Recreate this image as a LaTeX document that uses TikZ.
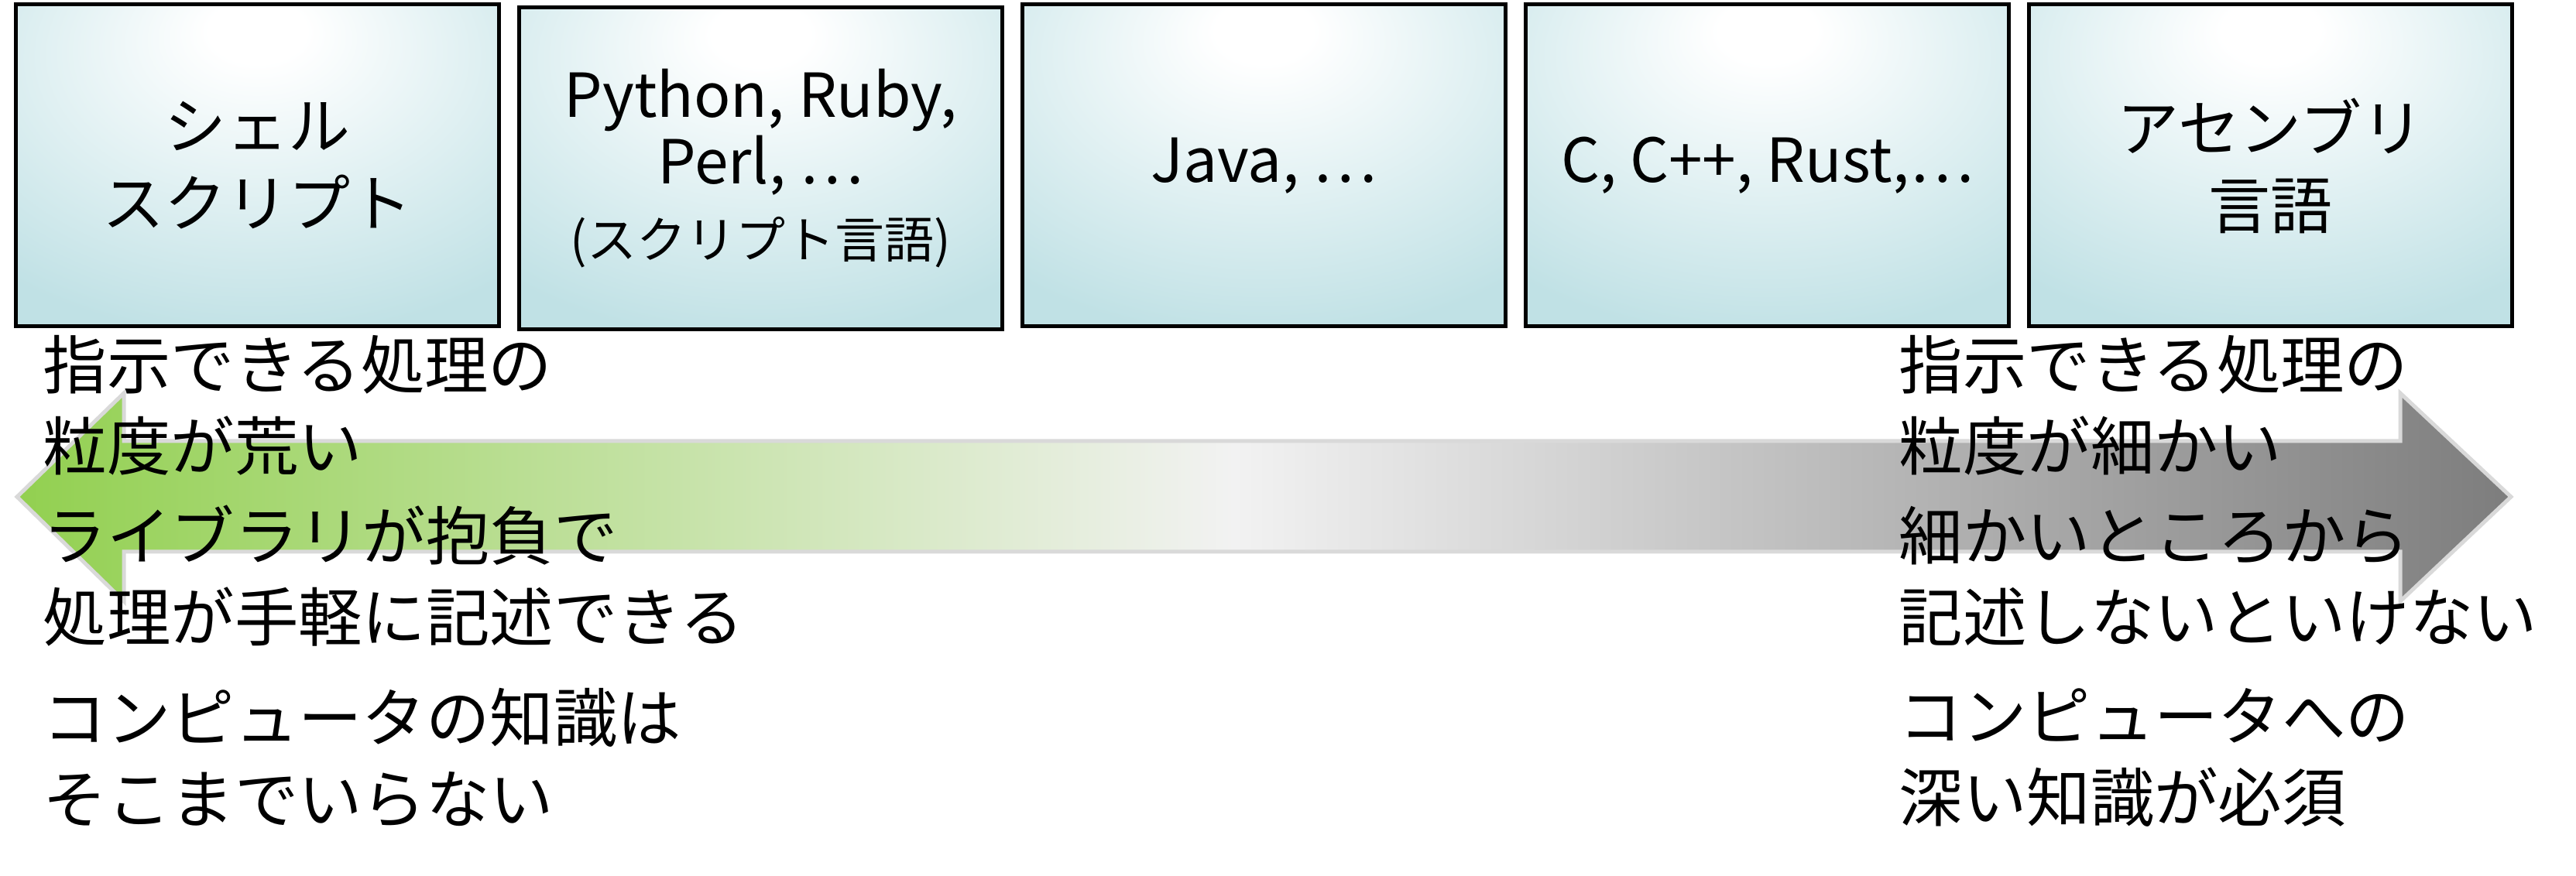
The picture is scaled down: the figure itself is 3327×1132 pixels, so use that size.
\documentclass[tikz,border=0pt]{standalone}
\usepackage{fontspec}
\setmainfont{Noto Sans CJK JP}
\definecolor{boxteal}{RGB}{192,225,229}
\definecolor{arrgreen}{RGB}{146,208,80}
\definecolor{arrlight}{RGB}{242,242,242}
\definecolor{arrgray}{RGB}{125,125,125}
\definecolor{arrowedge}{RGB}{217,217,217}
\pgfdeclareradialshading{boxshade}{\pgfpoint{0bp}{22bp}}{color(0bp)=(white); color(5bp)=(white); color(40bp)=(boxteal); color(100bp)=(boxteal)}
\pgfdeclarehorizontalshading{arrowshade}{100bp}{color(0bp)=(arrgreen); color(25bp)=(arrgreen); color(49.4bp)=(arrlight); color(75bp)=(arrgray); color(100bp)=(arrgray)}
\tikzset{
  langbox/.style={draw=black, line width=1.25pt, shading=boxshade,
    minimum width=156pt, minimum height=104pt, inner sep=0pt, align=center,
    font=\fontsize{20}{25}\selectfont},
  latinbox/.style={langbox, font=\fontsize{19.6}{21.5}\selectfont},
  note/.style={anchor=west, align=left, inner sep=0pt,
    font=\fontsize{20.6}{26.25}\selectfont},
  bigarrow/.style={draw=arrowedge, line width=1.25pt, shading=arrowshade},
}
\begin{document}
\begin{tikzpicture}[x=0.25pt,y=-0.25pt]
\useasboundingbox (0,0) rectangle (3327,1132);
% arrow
\path[bigarrow] (22,642) -- (160,508) -- (160,570) -- (3100,570) -- (3100,508)
  -- (3243,642) -- (3100,777) -- (3100,713) -- (160,713) -- (160,777) -- cycle;
% boxes
\node[langbox] (b1) at (332.5,214) {シェル\\スクリプト};
\node[latinbox] (b2) at (982.5,218) {Python, Ruby,\\Perl, …\\[2.5pt]{\fontsize{16}{20}\selectfont (スクリプト言語)}};
\node[latinbox] (b3) at (1632.5,214) {Java, …};
\node[latinbox] (b4) at (2282.5,214) {C, C++, Rust,…};
\node[langbox] (b5) at (2932.5,214) {アセンブリ\\言語};
% notes
\node[note] (l1) at (55,524) {指示できる処理の\\粒度が荒い};
\node[note] (l2) at (55,744) {ライブラリが抱負で\\処理が手軽に記述できる};
\node[note] (l3) at (55,979) {コンピュータの知識は\\そこまでいらない};
\node[note] (r1) at (2452,524) {指示できる処理の\\粒度が細かい};
\node[note] (r2) at (2452,744) {細かいところから\\記述しないといけない};
\node[note] (r3) at (2452,979) {コンピュータへの\\深い知識が必須};
\end{tikzpicture}
\end{document}
